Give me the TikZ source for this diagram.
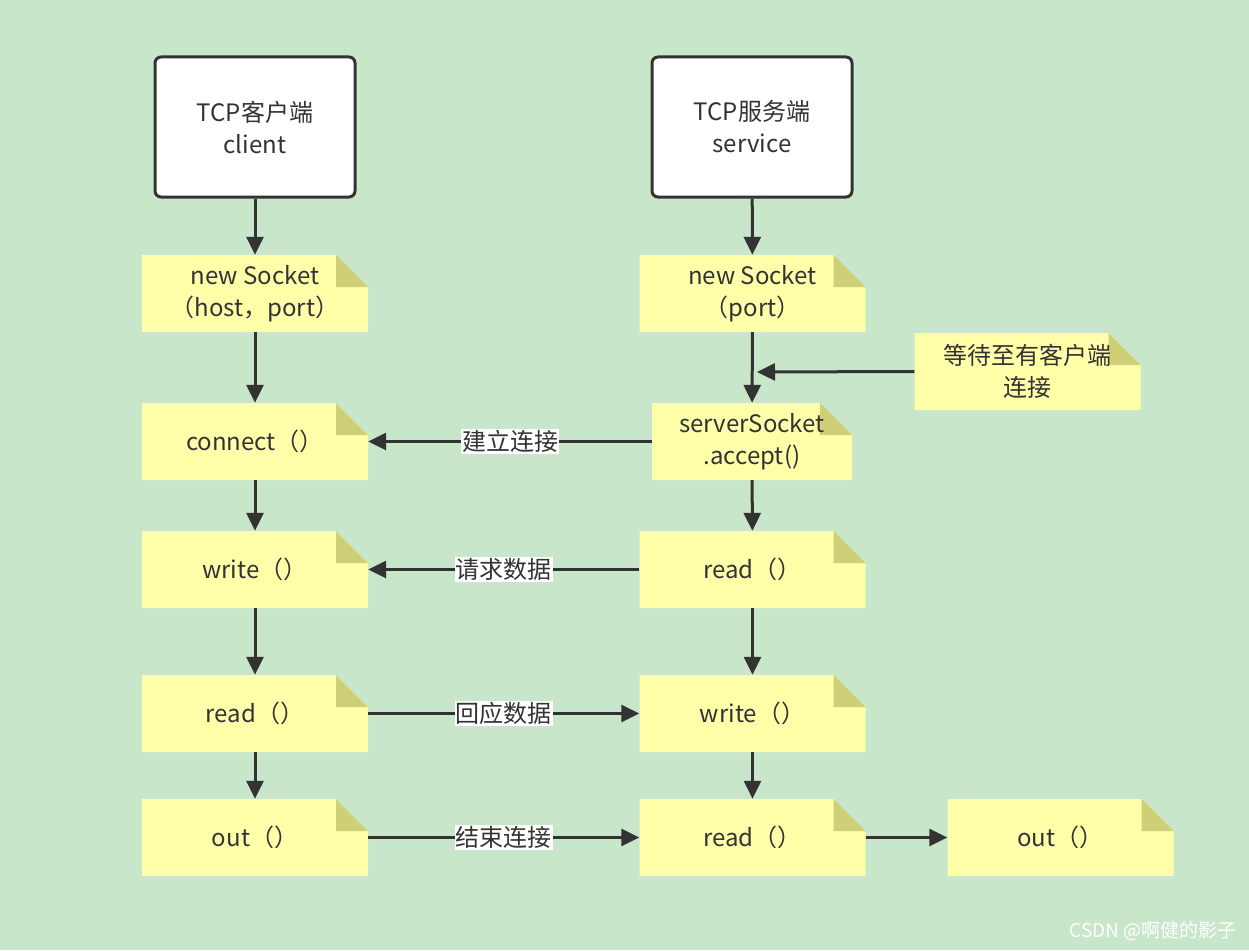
\documentclass[tikz,border=0pt]{standalone}
\usepackage{fontspec}
\setmainfont{Noto Sans CJK SC}
\usetikzlibrary{arrows.meta}
\definecolor{bg}{HTML}{C8E6C9}
\definecolor{notef}{HTML}{FFFFAA}
\definecolor{fold}{HTML}{CFCF78}
\definecolor{ln}{HTML}{333333}
\begin{document}
\begin{tikzpicture}[x=1pt,y=-1pt,
 font=\fontsize{24}{32}\selectfont,
 note/.style={minimum width=226pt,minimum height=77pt,inner sep=0pt,align=center,text=ln,
  path picture={
   \fill[notef] (path picture bounding box.south west) -- (path picture bounding box.north west)
     -- ([xshift=-32pt]path picture bounding box.north east) -- ([yshift=-32pt]path picture bounding box.north east)
     -- (path picture bounding box.south east) -- cycle;
   \fill[fold] ([xshift=-32pt]path picture bounding box.north east) -- ([yshift=-32pt]path picture bounding box.north east)
     -- ([xshift=-32pt,yshift=-32pt]path picture bounding box.north east) -- cycle;}},
 head/.style={draw=ln,line width=3pt,fill=white,rounded corners=6pt,minimum width=200pt,minimum height=140pt,align=center,text=ln},
 arr/.style={draw=ln,line width=3pt,-{Triangle[length=18pt,width=17pt]}},
 lab/.style={fill=white,inner sep=1pt,text=ln}]
\fill[bg] (0,0) rectangle (1249,950);
\node[head] (ch) at (255,127) {TCP客户端\\client};
\node[head] (sh) at (752,127) {TCP服务端\\service};
\node[note] (cn) at (255,293.5) {new Socket\\（host，port）};
\node[note] (sn) at (752.5,293.5) {new Socket\\（port）};
\node[note] (wt) at (1027.5,371.5) {等待至有客户端\\连接};
\node[note] (cc) at (255,441.5) {connect（）};
\node[note,minimum width=200pt] (sa) at (752,441.5) {serverSocket\\.accept()};
\node[note] (cw) at (255,569.5) {write（）};
\node[note] (sr) at (752.5,569.5) {read（）};
\node[note] (cr) at (255,713.5) {read（）};
\node[note] (sw) at (752.5,713.5) {write（）};
\node[note] (co) at (255,837.5) {out（）};
\node[note] (sr2) at (752.5,837.5) {read（）};
\node[note] (so) at (1060.5,837.5) {out（）};
\coordinate (hit) at (752,372);
\draw[arr] (ch) -- (cn);
\draw[arr] (cn) -- (cc);
\draw[arr] (cc) -- (cw);
\draw[arr] (cw) -- (cr);
\draw[arr] (cr) -- (co);
\draw[arr] (sh) -- (sn);
\draw[arr] (sn) -- (sa);
\draw[arr] (wt.west) -- ([xshift=5pt]hit);
\draw[arr] (sa) -- (sr);
\draw[arr] (sr) -- (sw);
\draw[arr] (sw) -- (sr2);
\draw[arr] (sa) -- node[lab]{建立连接} (cc);
\draw[arr] (sr) -- node[lab]{请求数据} (cw);
\draw[arr] (cr) -- node[lab]{回应数据} (sw);
\draw[arr] (co) -- node[lab]{结束连接} (sr2);
\draw[arr] (sr2) -- (so);
\node[text=white,font=\fontsize{19}{20}\selectfont,anchor=east] (wm) at (1240,931) {CSDN @啊健的影子};
\end{tikzpicture}
\end{document}
